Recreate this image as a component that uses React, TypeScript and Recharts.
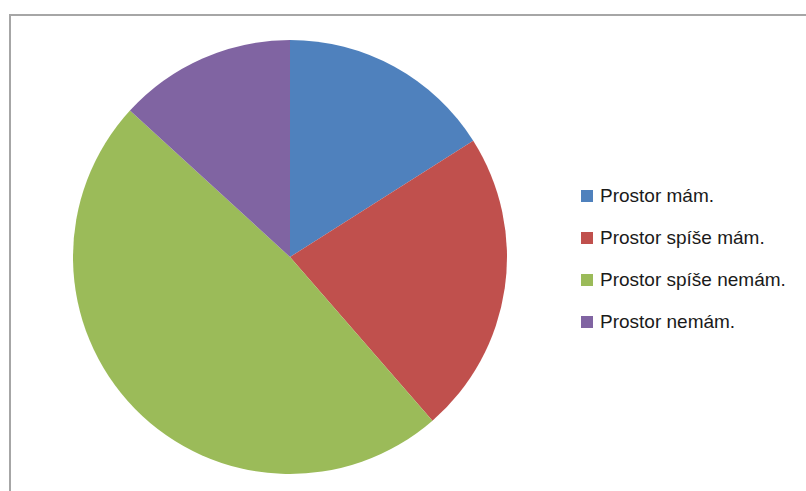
import { PieChart, Pie, Cell, Legend } from 'recharts';

const categories = ['Prostor mám.', 'Prostor spíše mám.', 'Prostor spíše nemám.', 'Prostor nemám.'];
const values = [16, 22.6, 48.2, 13.2];
const colors = ['#4F81BD', '#C0504D', '#9BBB59', '#8064A2'];

const data = categories.map((name, i) => ({ name, value: values[i] }));

const renderLegend = () => (
  <div style={{ fontFamily: '"Liberation Sans", Arial, sans-serif', fontSize: 19, color: '#1a1a1a' }}>
    {categories.map((name, i) => (
      <div key={name} style={{ display: 'flex', alignItems: 'center', height: 42 }}>
        <span style={{ display: 'inline-block', width: 12, height: 12, background: colors[i], marginRight: 7 }} />
        <span>{name}</span>
      </div>
    ))}
  </div>
);

export default function App() {
  return (
    <div style={{ position: 'absolute', left: 0, top: 0, width: 806, height: 491, overflow: 'hidden', background: '#fff' }}>
      <div
        style={{
          position: 'absolute',
          left: 9,
          top: 14,
          width: 820,
          height: 520,
          border: '2px solid #a6a6a6',
          boxSizing: 'border-box',
        }}
      />
      <div style={{ position: 'absolute', left: 0, top: 0 }}>
        <PieChart width={806} height={491}>
          <Pie
            data={data}
            dataKey="value"
            nameKey="name"
            cx={285}
            cy={252}
            outerRadius={217}
            startAngle={90}
            endAngle={-270}
            stroke="none"
            isAnimationActive={false}
          >
            {data.map((d, i) => (
              <Cell key={d.name} fill={colors[i]} />
            ))}
          </Pie>
          <Legend
            layout="vertical"
            content={renderLegend}
            wrapperStyle={{ position: 'absolute', left: 581, top: 175, width: 225 }}
          />
        </PieChart>
      </div>
    </div>
  );
}
